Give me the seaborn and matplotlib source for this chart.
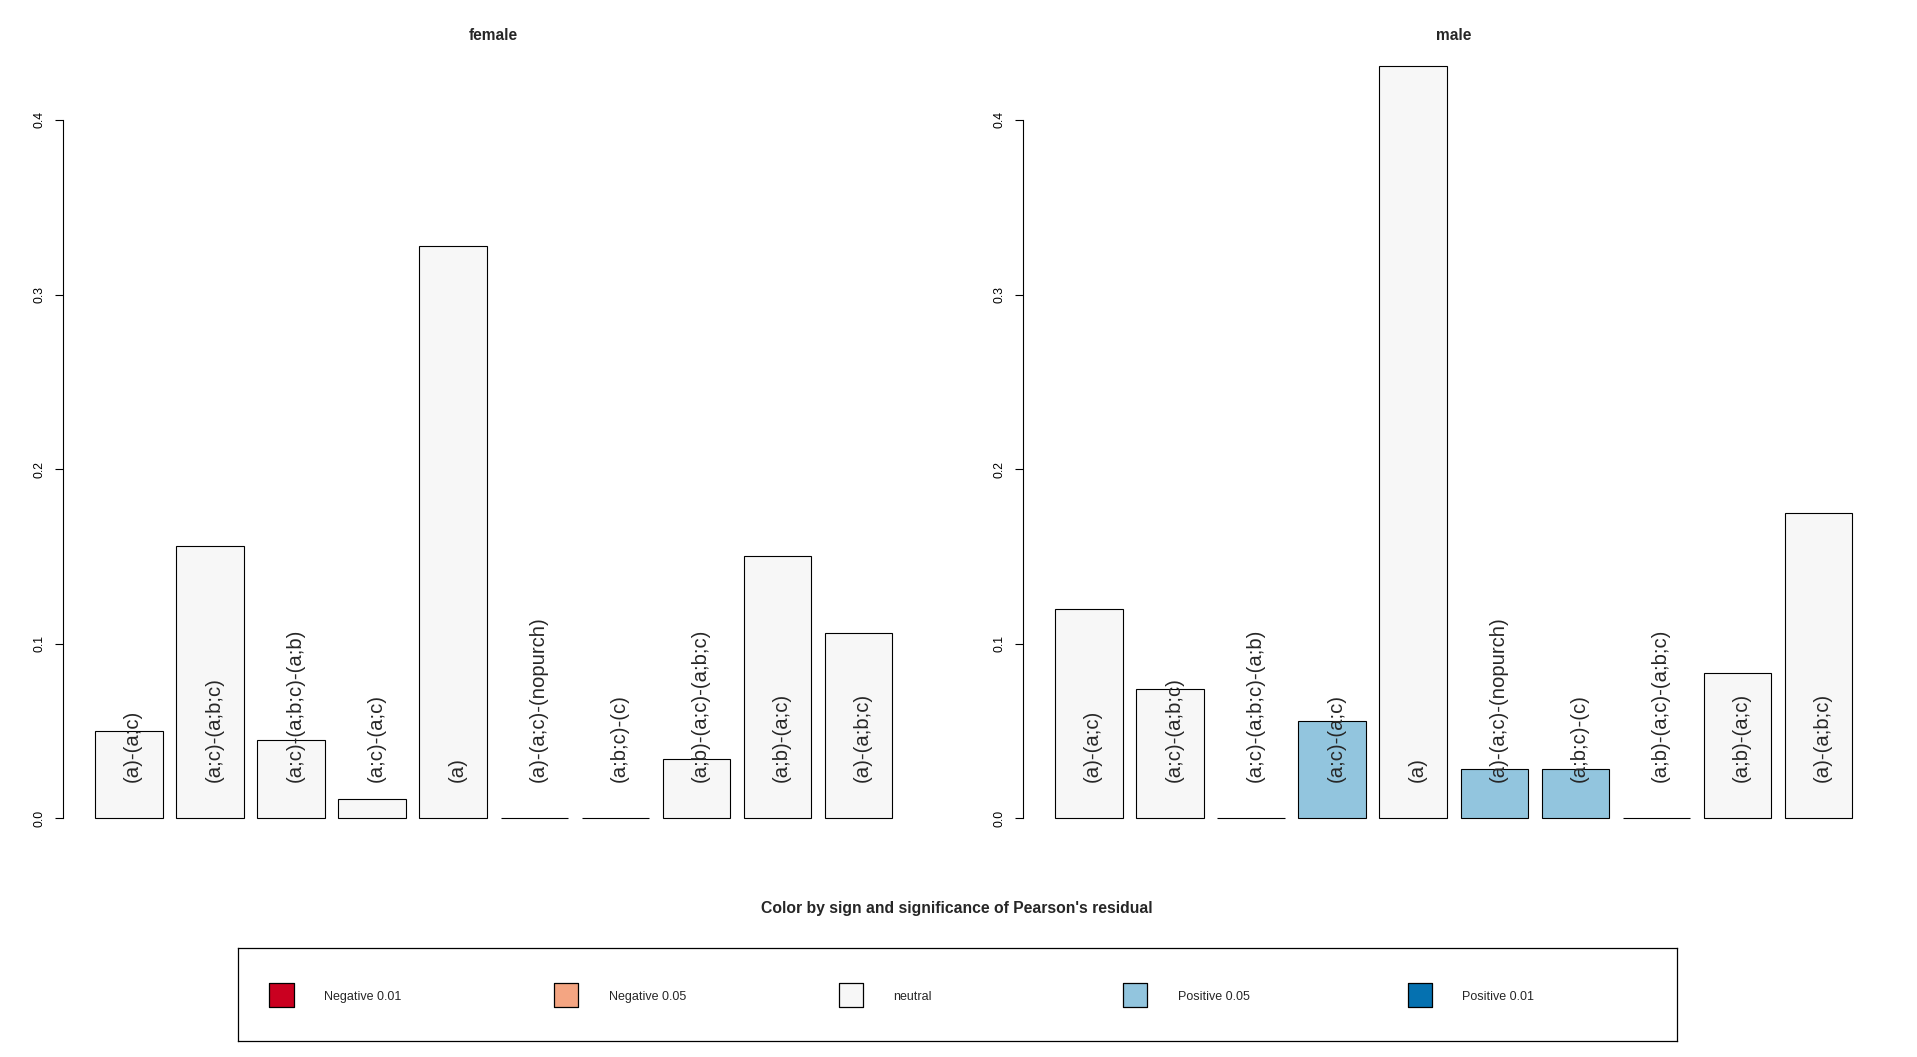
import pandas as pd
import seaborn as sns
import matplotlib.pyplot as plt

# transition paths (bar categories), shared by both panels
paths = ["(a)-(a;c)", "(a;c)-(a;b;c)", "(a;c)-(a;b;c)-(a;b)", "(a;c)-(a;c)", "(a)",
         "(a)-(a;c)-(nopurch)", "(a;b;c)-(c)", "(a;b)-(a;c)-(a;b;c)", "(a;b)-(a;c)", "(a)-(a;b;c)"]

female_share = [0.050, 0.1557, 0.0446, 0.0113, 0.328, 0.0, 0.0, 0.0339, 0.150, 0.106]
male_share = [0.1198, 0.0739, 0.0, 0.0556, 0.4312, 0.0283, 0.0283, 0.0, 0.0832, 0.1747]

female_sig = ["neutral"] * 10
male_sig = ["neutral", "neutral", "neutral", "Positive 0.05", "neutral",
            "Positive 0.05", "Positive 0.05", "neutral", "neutral", "neutral"]

legend_labels = ["Negative 0.01", "Negative 0.05", "neutral", "Positive 0.05", "Positive 0.01"]
legend_colors = ["#CA0020", "#F4A582", "#F7F7F7", "#92C5DE", "#0571B0"]
palette = dict(zip(legend_labels, legend_colors))

sns.set_style("white")
plt.rcParams['font.family'] = ['Liberation Sans', 'DejaVu Sans']

W, H = 1917, 1057
fig = plt.figure(figsize=(W / 100, H / 100), dpi=100)


def px_axes(left, top, right, bottom):
    return fig.add_axes([left / W, 1 - bottom / H, (right - left) / W, (bottom - top) / H])


panels = [("female", female_share, female_sig, 63.3), ("male", male_share, male_sig, 1023.3)]

for name, share, sig, x0 in panels:
    ax = px_axes(x0, 35.3, x0 + 861, 848.0)
    df = pd.DataFrame({"path": paths, "share": share, "sig": sig})
    sns.barplot(data=df, x="path", y="share", hue="sig", order=paths,
                hue_order=legend_labels, palette=palette, dodge=False,
                width=1 / 1.2, edgecolor="black", linewidth=0.8,
                errorbar=None, legend=False, ax=ax, saturation=1)
    ax.set_xlim(-0.8112, 9.8112)
    ax.set_ylim(-0.017, 0.4485)
    ax.set_xticks([])
    ax.set_xlabel("")
    ax.set_ylabel("")
    for s in ["top", "right", "bottom"]:
        ax.spines[s].set_visible(False)
    ax.spines["left"].set_bounds(0, 0.4)
    ax.spines["left"].set_linewidth(0.8)
    ax.spines["left"].set_color("black")
    ax.set_yticks([0.0, 0.1, 0.2, 0.3, 0.4])
    ax.set_yticklabels(["0.0", "0.1", "0.2", "0.3", "0.4"])
    ax.tick_params(axis="y", left=True, length=5.8, width=0.8, pad=7,
                   labelsize=8.8, labelrotation=90, colors="black")
    for lab in ax.get_yticklabels():
        lab.set_va("center")
    for i, p in enumerate(paths):
        ax.text(i + 0.045, 0.021, p, rotation=90, ha="center", va="bottom", fontsize=14.6)
    ax.set_facecolor("none")
    fig.text((x0 + 430.5) / W, 1 - 35 / H, name, ha="center", va="center",
             fontsize=11.2, fontweight="bold")

fig.text(956.8 / W, 1 - 909 / H, "Color by sign and significance of Pearson's residual",
         ha="center", va="center", fontsize=11.3, fontweight="bold")

# legend box
lax = px_axes(238.3, 948.3, 1677.3, 1041.0)
leg_df = pd.DataFrame({"pos": range(len(legend_labels)), "y": [0.5] * 5, "lab": legend_labels})
sns.scatterplot(data=leg_df, x="pos", y="y", hue="lab", palette=palette, marker="s",
                s=300, edgecolor="black", linewidth=0.9, legend=False, ax=lax)
lax.set_xlim(-0.1518, 4.904)
lax.set_ylim(0, 1)
for i, lab in enumerate(legend_labels):
    lax.text(i + 0.149, 0.47, lab, ha="left", va="center", fontsize=9)
lax.set_xticks([])
lax.set_yticks([])
lax.set_xlabel("")
lax.set_ylabel("")
for s in lax.spines.values():
    s.set_visible(True)
    s.set_color("black")
    s.set_linewidth(0.9)

fig.savefig("out.png", dpi=100)
